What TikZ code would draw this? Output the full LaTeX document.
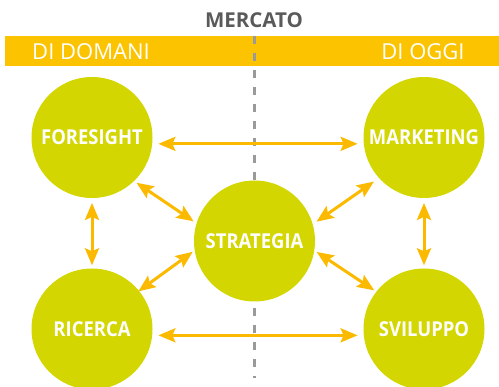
\documentclass[tikz,border=0pt]{standalone}
\usepackage{fontspec}
\setmainfont{Open Sans}
\newfontfamily\hubfont[FakeStretch=0.9]{Open Sans}
\usetikzlibrary{arrows.meta}

\definecolor{barorange}{HTML}{FCC300}
\definecolor{linkyellow}{HTML}{FBBA00}
\definecolor{hublime}{HTML}{D3D600}
\definecolor{titlegray}{HTML}{5A5A5A}
\definecolor{dashgray}{HTML}{9A9A9A}

\tikzset{
  hub/.style={circle, fill=hublime, minimum size=121pt, inner sep=0pt,
    text=white, font=\hubfont\bfseries\fontsize{20.5}{20.5}\selectfont},
  link/.style={draw=linkyellow, line width=3pt,
    {Stealth[length=17pt,width=14pt,inset=3pt]}-{Stealth[length=17pt,width=14pt,inset=3pt]}},
  bartext/.style={anchor=base, text=white, inner sep=0pt,
    font=\fontsize{22}{22}\selectfont},
}

\begin{document}
\begin{tikzpicture}[x=1pt, y=-1pt]
  \useasboundingbox (0,0) rectangle (499,387);
  \clip (0,0) rectangle (499,387);

  % header band with the two time horizons
  \fill[barorange] (5,36) rectangle (500,65.7);
  \node[bartext] (domani) at (91,59.3) {DI DOMANI};
  \node[bartext] (oggi) at (423,59.3) {DI OGGI};

  % market divide
  \node[anchor=base, inner sep=0pt, text=titlegray,
        font=\bfseries\fontsize{20.5}{20.5}\selectfont] (mercato) at (254,27.7) {MERCATO};
  \coordinate (divtop) at (254,36);
  \coordinate (divbot) at (254,378);
  \draw[dashgray, line width=3pt, dash pattern=on 8pt off 9pt] (divtop) -- (divbot);

  % the five areas
  \node[hub] (fore)  at (92,137.5)  {FORESIGHT};
  \node[hub] (mark)  at (424,137.5) {MARKETING};
  \node[hub] (strat) at (254.5,241) {STRATEGIA};
  \node[hub] (ric)   at (92,329)    {RICERCA};
  \node[hub] (svil)  at (424,329)   {SVILUPPO};

  % two-way relations
  \draw[link, shorten <=6pt, shorten >=6pt] (fore.-6.2) -- (mark.186.2);
  \draw[link, shorten <=6pt, shorten >=6pt] (ric.-6.3) -- (svil.186.3);
  \draw[link, shorten <=4.7pt, shorten >=3pt] (fore.south) -- (ric.north);
  \draw[link, shorten <=4.7pt, shorten >=3pt] (mark.south) -- (svil.north);
  \draw[link, shorten <=2.8pt, shorten >=3.4pt] (fore.-46) -- (strat.163.4);
  \draw[link, shorten <=2.2pt, shorten >=-1pt] (strat.189.8) -- (ric.39.2);
  \draw[link, shorten <=4.5pt, shorten >=6pt] (strat.16.7) -- (mark.222.5);
  \draw[link, shorten <=2.6pt, shorten >=2.3pt] (strat.-9.8) -- (svil.142.8);
\end{tikzpicture}
\end{document}
